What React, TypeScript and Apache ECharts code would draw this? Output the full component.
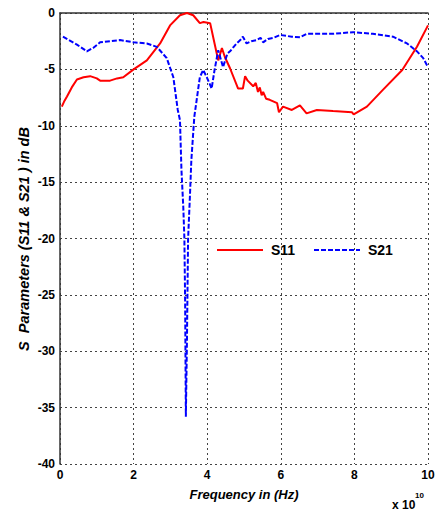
import React, { useEffect, useRef } from "react";
import * as echarts from "echarts";

// Frequency in units of 1e10 Hz
const s11Freq = [0.05, 0.12, 0.19, 0.32, 0.46, 0.64, 0.82, 1.0, 1.09, 1.36, 1.55, 1.72, 2.0, 2.36, 2.72, 2.99, 3.26, 3.45, 3.62, 3.8, 3.9, 4.08, 4.2, 4.3, 4.4, 4.48, 4.62, 4.84, 4.97, 5.03, 5.1, 5.25, 5.32, 5.38, 5.43, 5.48, 5.52, 5.6, 5.7, 5.9, 5.95, 6.06, 6.3, 6.52, 6.7, 6.98, 7.42, 7.93, 7.98, 8.34, 8.78, 9.3, 9.7, 10.0];
const s11Values = [-8.3, -7.8, -7.4, -6.6, -5.9, -5.7, -5.6, -5.8, -6.0, -6.0, -5.8, -5.7, -5.0, -4.2, -2.7, -1.1, -0.2, 0, -0.2, -0.9, -0.8, -0.9, -2.7, -4.2, -3.1, -3.9, -4.9, -6.7, -6.7, -5.6, -6.0, -6.5, -6.2, -7.0, -6.6, -7.3, -7.0, -7.6, -7.7, -8.0, -8.8, -8.3, -8.6, -8.2, -8.9, -8.6, -8.7, -8.8, -9.0, -8.3, -6.8, -5.05, -3.0, -1.1];

const s21Freq = [0.08, 0.46, 0.73, 0.9, 1.09, 1.63, 2.0, 2.36, 2.63, 2.9, 3.08, 3.2, 3.26, 3.3, 3.35, 3.38, 3.4, 3.42, 3.45, 3.48, 3.53, 3.57, 3.65, 3.8, 3.89, 3.99, 4.12, 4.2, 4.3, 4.43, 4.55, 4.62, 4.72, 4.8, 4.9, 4.97, 5.07, 5.2, 5.34, 5.45, 5.52, 5.65, 5.8, 5.98, 6.3, 6.52, 6.7, 7.42, 7.96, 8.5, 9.05, 9.43, 9.7, 9.87, 10.0];
const s21Values = [-2.1, -2.8, -3.4, -3.1, -2.6, -2.4, -2.6, -2.7, -3.0, -4.0, -5.7, -8.6, -9.5, -13.9, -17.2, -20.0, -25.5, -35.8, -29.0, -20.1, -16.3, -13.0, -9.2, -5.7, -5.05, -5.7, -6.7, -5.05, -3.3, -4.8, -3.6, -3.4, -3.0, -2.7, -2.4, -2.1, -2.7, -2.5, -2.4, -2.2, -2.6, -2.3, -2.2, -1.95, -2.1, -2.15, -1.85, -1.85, -1.7, -1.85, -2.1, -2.7, -3.4, -4.0, -4.8];

const xTicks = [0, 2, 4, 6, 8, 10];
const yTicks = [0, -5, -10, -15, -20, -25, -30, -35, -40];
const seriesNames = ["S11", "S21"];
const yTitle = "S  Parameters (S11 & S21 ) in dB";
const xTitle = "Frequency in (Hz)";

const FONT = "'Liberation Sans', Arial, sans-serif";
const RED = "#ff0000";
const BLUE = "#0000ff";

export default function App() {
  const ref = useRef<HTMLDivElement>(null);
  useEffect(() => {
    if (!ref.current) return;
    const chart = echarts.init(ref.current, undefined, { renderer: "svg" });
    const s11 = s11Freq.map((f, i) => [f, s11Values[i]]);
    const s21 = s21Freq.map((f, i) => [f, s21Values[i]]);
    const legendText = { fontFamily: FONT, fontWeight: "bold", fontSize: 14, fill: "#000", verticalAlign: "middle" };
    chart.setOption({
      animation: false,
      backgroundColor: "#ffffff",
      grid: { left: 60, right: 11, top: 13, bottom: 55, containLabel: false },
      xAxis: {
        type: "value",
        min: xTicks[0],
        max: xTicks[xTicks.length - 1],
        interval: 2,
        name: xTitle,
        nameLocation: "middle",
        nameGap: 24,
        nameTextStyle: { fontFamily: FONT, fontWeight: "bold", fontStyle: "italic", fontSize: 13, color: "#000" },
        axisLine: { show: true, lineStyle: { color: "#333", width: 1.5 } },
        axisTick: { show: false },
        axisLabel: { fontFamily: FONT, fontWeight: "bold", fontSize: 12, color: "#000", margin: 5 },
        splitLine: { show: true, lineStyle: { color: "#444", type: [2, 3], width: 1 } },
      },
      yAxis: {
        type: "value",
        min: yTicks[yTicks.length - 1],
        max: yTicks[0],
        interval: 5,
        axisLine: { show: true, lineStyle: { color: "#333", width: 1.5 } },
        axisTick: { show: false },
        axisLabel: { fontFamily: FONT, fontWeight: "bold", fontSize: 12, color: "#000", margin: 5 },
        splitLine: { show: true, lineStyle: { color: "#444", type: [2, 3], width: 1 } },
      },
      graphic: [
        {
          type: "text",
          x: 24,
          y: 239,
          rotation: Math.PI / 2,
          style: { text: yTitle, fontFamily: FONT, fontWeight: "bold", fontStyle: "italic", fontSize: 14.5, fill: "#000", align: "center", verticalAlign: "middle" },
        },
        { type: "text", left: 392, top: 499, style: { text: "x 10", fontFamily: FONT, fontWeight: "bold", fontSize: 12, fill: "#000" } },
        { type: "text", left: 415, top: 491, style: { text: "10", fontFamily: FONT, fontWeight: "bold", fontSize: 8, fill: "#000" } },
        { type: "line", shape: { x1: 217, y1: 250, x2: 263, y2: 250 }, style: { stroke: RED, lineWidth: 2 }, z: 10 },
        { type: "text", x: 271, y: 250, style: { ...legendText, text: seriesNames[0] }, z: 10 },
        { type: "line", shape: { x1: 314, y1: 250, x2: 360, y2: 250 }, style: { stroke: BLUE, lineWidth: 2, lineDash: [5, 2] }, z: 10 },
        { type: "text", x: 368, y: 250, style: { ...legendText, text: seriesNames[1] }, z: 10 },
      ],
      series: [
        {
          name: seriesNames[0],
          type: "line",
          data: s11,
          symbol: "none",
          lineStyle: { color: RED, width: 2 },
          itemStyle: { color: RED },
        },
        {
          name: seriesNames[1],
          type: "line",
          data: s21,
          symbol: "none",
          lineStyle: { color: BLUE, width: 2, type: [5, 2] },
          itemStyle: { color: BLUE },
        },
      ],
    });
    return () => chart.dispose();
  }, []);
  return <div ref={ref} style={{ position: "absolute", left: 0, top: 0, width: 439, height: 519 }} />;
}
